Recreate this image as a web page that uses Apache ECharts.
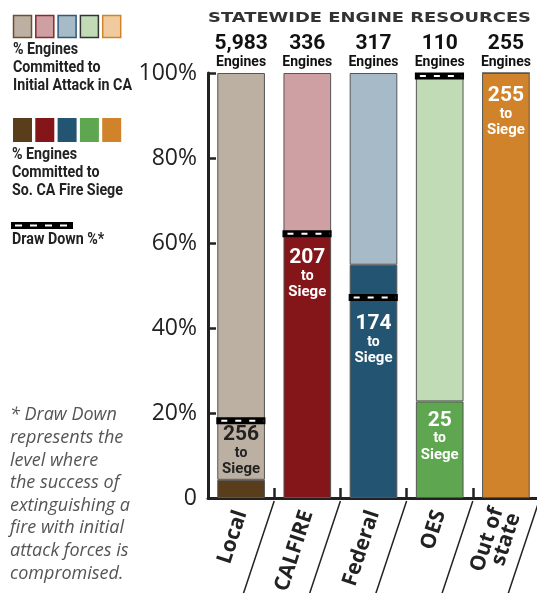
<!DOCTYPE html>
<html>
<head>
<meta charset="utf-8">
<script src="https://cdn.jsdelivr.net/npm/echarts@6/dist/echarts.min.js"></script>
<style>
html,body{margin:0;padding:0;background:#fff;}
#main{width:537px;height:593px;}
</style>
</head>
<body>
<div id="main"></div>
<script>
// ---- data ----
const categories = ['Local', 'CALFIRE', 'Federal', 'OES', 'Out of\nstate'];
const totalEngines = [5983, 336, 317, 110, 255];
const siegeEngines = [256, 207, 174, 25, 255];
const drawDownPct = [18.2, 62.2, 47.2, 99.3, null];
const yTicks = [0, 20, 40, 60, 80, 100];

// ---- styles ----
const darkColors = ['#5a3e1b', '#84161a', '#235573', '#5ea64f', '#d0832b'];
const lightColors = ['#bbb0a2', '#cfa0a3', '#a7bac7', '#c1dbb7', '#f0cba0'];
const lightBorders = ['#6b5030', '#8a2a2a', '#2f5a78', '#333333', '#d0832b'];
const labelPos = ['top', 'insideTop', 'insideTop', 'insideTop', 'insideTop'];
const labelDist = [2, 11, 48, 8, 12];
const labelColor = ['#222', '#fff', '#fff', '#fff', '#fff'];
const COND = "Roboto,'Noto Sans',sans-serif";
const SANS = "'Open Sans','Noto Sans',sans-serif";

const siegePct = siegeEngines.map((s, i) => s / totalEngines[i] * 100);
const restPct = siegePct.map(v => 100 - v);

function textWidth(font, text) {
  const c = document.createElement('canvas').getContext('2d');
  c.font = font;
  return c.measureText(text).width;
}

const chart = echarts.init(document.getElementById('main'));

const legendFont = 'bold 17px ' + COND;
const legendGraphics = [];
lightColors.forEach((c, i) => {
  legendGraphics.push({type: 'rect', shape: {x: 13.5 + i * 22.3, y: 15.5, width: 18, height: 22},
    style: {fill: c, stroke: lightBorders[i], lineWidth: 1.5}});
});
darkColors.forEach((c, i) => {
  legendGraphics.push({type: 'rect', shape: {x: 13 + i * 22.3, y: 118, width: 19, height: 24},
    style: {fill: c}});
});
const legScale = 119 / textWidth(legendFont, 'Initial Attack in CA');
legendGraphics.push({type: 'text', x: 13, y: 41, scaleX: legScale, style: {text: '% Engines\nCommitted to\nInitial Attack in CA',
  font: legendFont, lineHeight: 18, fill: '#222'}});
legendGraphics.push({type: 'text', x: 12, y: 146, scaleX: legScale, style: {text: '% Engines\nCommitted to\nSo. CA Fire Siege',
  font: legendFont, lineHeight: 18, fill: '#222'}});
legendGraphics.push({type: 'rect', shape: {x: 11, y: 222, width: 62, height: 7}, style: {fill: '#000'}});
legendGraphics.push({type: 'line', shape: {x1: 15, y1: 225.5, x2: 72, y2: 225.5},
  style: {stroke: '#fff', lineWidth: 2, lineDash: [7, 8]}});
legendGraphics.push({type: 'text', x: 12, y: 231, scaleX: legScale, style: {text: 'Draw Down %*',
  font: legendFont, fill: '#222'}});
legendGraphics.push({type: 'text', x: 10, y: 404, style: {
  text: '* Draw Down\nrepresents the\nlevel where\nthe success of\nextinguishing a\nfire with initial\nattack forces is\ncompromised.',
  font: 'italic 18px ' + SANS, lineHeight: 22.6, fill: '#555'}});
// header title, stretched to the reference's letter-spaced width
const titleText = 'STATEWIDE ENGINE RESOURCES';
const titleFont = 'bold 14.5px "DejaVu Sans",sans-serif';
legendGraphics.push({type: 'text', x: 208, y: 11, scaleX: 323 / textWidth(titleFont, titleText),
  style: {text: titleText, font: titleFont, fill: '#333'}});

const option = {
  animation: false,
  grid: {left: 208, right: -2, top: 73, bottom: 95, containLabel: false, outerBoundsMode: 'none'},
  xAxis: [{
    type: 'category', data: categories, position: 'bottom',
    axisLine: {show: true, lineStyle: {color: '#222', width: 3}},
    axisTick: {show: true, inside: true, length: 10, lineStyle: {color: '#222', width: 2.5}},
    axisLabel: {rotate: 72, margin: 13, interval: 0, fontFamily: SANS, fontWeight: 'bold', fontSize: 21,
      color: '#222', lineHeight: 18}
  }, {
    type: 'category', data: categories, position: 'top',
    axisLine: {show: false}, axisTick: {show: false},
    axisLabel: {
      margin: 3, interval: 0,
      formatter: (v, i) => '{n|' + totalEngines[i].toLocaleString('en-US') + '}\n{e|Engines}',
      rich: {
        n: {fontFamily: COND, fontWeight: 'bold', fontSize: 21, lineHeight: 23, color: '#111'},
        e: {fontFamily: COND, fontWeight: 'bold', fontSize: 14, lineHeight: 15, color: '#111'}
      }
    }
  }],
  yAxis: {
    type: 'value', min: 0, max: 100, interval: 20,
    axisLine: {show: true, lineStyle: {color: '#222', width: 3}},
    axisTick: {show: true, inside: true, length: 8, lineStyle: {color: '#222', width: 2.5}},
    splitLine: {show: false},
    axisLabel: {margin: 11, fontFamily: SANS, fontSize: 23, color: '#222',
      formatter: v => yTicks.includes(v) ? (v === 0 ? '0' : v + '%') : ''}
  },
  series: [{
    type: 'bar', stack: 'a', barWidth: '72%', z: 3,
    data: siegePct.map((v, i) => ({
      value: v,
      itemStyle: {color: darkColors[i], borderColor: '#555', borderWidth: 1},
      label: {position: labelPos[i], distance: labelDist[i], color: labelColor[i]}
    })),
    label: {
      show: true,
      formatter: p => '{a|' + siegeEngines[p.dataIndex] + '}\n{b|to}\n{c|Siege}',
      rich: {
        a: {fontFamily: COND, fontWeight: 'bold', fontSize: 21, lineHeight: 22, align: 'center'},
        b: {fontFamily: COND, fontWeight: 'bold', fontSize: 14, lineHeight: 15, align: 'center'},
        c: {fontFamily: COND, fontWeight: 'bold', fontSize: 15, lineHeight: 17, align: 'center'}
      }
    }
  }, {
    type: 'bar', stack: 'a', barWidth: '72%', z: 2,
    data: restPct.map((v, i) => ({
      value: v,
      itemStyle: {color: lightColors[i], borderColor: '#555', borderWidth: 1}
    }))
  }, {
    type: 'custom', z: 10,
    data: drawDownPct.map((v, i) => [i, v]),
    renderItem: (params, api) => {
      const v = api.value(1);
      if (v === null || isNaN(v)) return null;
      const p = api.coord([api.value(0), v]);
      const w = api.size([1, 0])[0] * 0.72;
      const x1 = p[0] - w / 2 - 1, x2 = p[0] + w / 2 + 0.5;
      return {
        type: 'group',
        children: [
          {type: 'line', shape: {x1: x1, y1: p[1], x2: x2, y2: p[1]},
            style: {stroke: '#000', lineWidth: 7}},
          {type: 'line', shape: {x1: x1 + 5, y1: p[1], x2: x2 - 2, y2: p[1]},
            style: {stroke: '#fff', lineWidth: 2, lineDash: [6, 8]}}
        ]
      };
    }
  }],
  graphic: legendGraphics
};
chart.setOption(option);

// diagonal separators below category boundaries
const c0 = chart.convertToPixel({xAxisIndex: 0}, 0);
const c1 = chart.convertToPixel({xAxisIndex: 0}, 1);
const band = c1 - c0;
const yAxisPx = chart.convertToPixel({yAxisIndex: 0}, 0);
const seps = [];
for (let i = 1; i <= categories.length; i++) {
  const bx = c0 + band * (i - 0.5);
  const y1 = yAxisPx + 3, y2 = 600;
  seps.push({type: 'line', shape: {x1: bx, y1: y1, x2: bx - (y2 - y1) * 0.333, y2: y2},
    style: {stroke: '#222', lineWidth: 1.5}});
}
chart.setOption({graphic: legendGraphics.concat(seps)});
</script>
</body>
</html>
